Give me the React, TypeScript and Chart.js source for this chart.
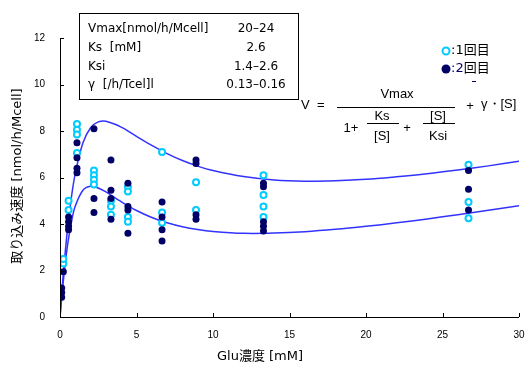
import { useEffect, useRef } from "react";
import { Chart, registerables } from "chart.js";

Chart.register(...registerables);

// Axis ticks
const xTickValues = [0, 5, 10, 15, 20, 25, 30];
const yTickValues = [0, 2, 4, 6, 8, 10, 12];

// 1回目 (open cyan circles)
const run1X = [
  0.22, 0.22,
  0.56, 0.56,
  1.11, 1.11, 1.11, 1.11,
  2.22, 2.22, 2.22, 2.22,
  3.33, 3.33, 3.33,
  4.44, 4.44, 4.44, 4.44,
  6.67, 6.67, 6.67,
  8.89, 8.89,
  13.3, 13.3, 13.3, 13.3,
  26.7, 26.7, 26.7,
];
const run1Y = [
  2.3, 2.5,
  4.6, 5.0,
  8.3, 8.05, 7.85, 7.05,
  6.3, 6.1, 5.9, 5.7,
  5.0, 4.75, 4.4,
  5.6, 5.4, 4.3, 4.1,
  7.1, 4.5, 4.05,
  5.8, 4.6,
  6.1, 5.25, 4.75, 4.3,
  6.55, 4.95, 4.25,
];

// 2回目 (filled navy circles)
const run2X = [
  0.11, 0.11, 0.11,
  0.22,
  0.56, 0.56, 0.56, 0.56,
  1.11, 1.11, 1.11, 1.11,
  2.22, 2.22, 2.22,
  3.33, 3.33, 3.33, 3.33,
  4.44, 4.44, 4.44, 4.44,
  6.67, 6.67, 6.67, 6.67,
  8.89, 8.89, 8.89, 8.89,
  13.3, 13.3, 13.3, 13.3, 13.3,
  26.7, 26.7, 26.7,
];
const run2Y = [
  0.85, 1.05, 1.25,
  1.95,
  4.3, 4.1, 3.9, 3.75,
  7.5, 6.85, 6.4, 6.2,
  8.1, 5.1, 4.5,
  6.75, 5.45, 5.1, 4.2,
  5.75, 4.75, 4.6, 3.6,
  4.95, 4.3, 3.75, 3.27,
  6.75, 6.6, 4.4, 4.2,
  5.75, 5.6, 4.1, 3.9, 3.7,
  6.3, 5.5, 4.6,
];

// Model curves
const curveX = [
  0, 0.1, 0.25, 0.5, 0.75, 1, 1.5, 2, 2.5, 3, 4, 5, 6, 7, 8, 9, 10, 12, 14,
  16, 18, 20, 22, 24, 26, 28, 30,
];
const upperCurveY = [
  0, 0.9, 2.13, 3.83, 5.17, 6.18, 7.49, 8.14, 8.39, 8.42, 8.17, 7.77, 7.38,
  7.03, 6.73, 6.49, 6.3, 6.04, 5.89, 5.84, 5.86, 5.92, 6.03, 6.16, 6.32, 6.5,
  6.7,
];
const lowerCurveY = [
  0, 0.75, 1.76, 3.12, 4.09, 4.77, 5.45, 5.62, 5.55, 5.38, 4.96, 4.58, 4.28,
  4.05, 3.88, 3.76, 3.68, 3.6, 3.61, 3.67, 3.77, 3.9, 4.05, 4.22, 4.4, 4.59,
  4.79,
];

// Parameter table
const tableLabels = ["Vmax[nmol/h/Mcell]", "Ks  [mM]", "Ksi", "γ  [/h/Tcel]l"];
const tableValues = ["20–24", "2.6", "1.4–2.6", "0.13–0.16"];

const CYAN = "#00ccff";
const NAVY = "#000066";
const BLUE = "#3333ff";
const LATIN = '"Liberation Sans", Arial, sans-serif';
const WIDE = '"DejaVu Sans", "Noto Sans CJK JP", sans-serif';

const zip = (xs: number[], ys: number[]) => xs.map((x, i) => ({ x, y: ys[i] }));

const overlayPlugin = {
  id: "overlay",
  afterDraw(chart: any) {
    const ctx: CanvasRenderingContext2D = chart.ctx;
    const xs = chart.scales.x;
    const ys = chart.scales.y;
    const area = chart.chartArea;
    ctx.save();
    // axes
    ctx.strokeStyle = "#000";
    ctx.lineWidth = 1;
    ctx.beginPath();
    ctx.moveTo(area.left + 0.5, area.top);
    ctx.lineTo(area.left + 0.5, area.bottom + 0.5);
    ctx.lineTo(area.right, area.bottom + 0.5);
    ctx.stroke();
    // inward ticks
    ctx.beginPath();
    yTickValues.forEach((v) => {
      const py = Math.round(ys.getPixelForValue(v)) + 0.5;
      ctx.moveTo(area.left, py);
      ctx.lineTo(area.left + 4, py);
    });
    xTickValues.forEach((v) => {
      const px = Math.round(xs.getPixelForValue(v)) + 0.5;
      ctx.moveTo(px, area.bottom);
      ctx.lineTo(px, area.bottom - 4);
    });
    ctx.stroke();

    ctx.fillStyle = "#000";
    // axis titles
    ctx.font = `13px ${WIDE}`;
    ctx.textAlign = "center";
    ctx.textBaseline = "middle";
    ctx.fillText("Glu濃度 [mM]", 260, 357);
    ctx.save();
    ctx.translate(18, 176);
    ctx.rotate(-Math.PI / 2);
    ctx.fillText("取り込み速度 [nmol/h/Mcell]", 0, 0);
    ctx.restore();

    // parameter table
    ctx.fillStyle = "#fff";
    ctx.fillRect(79.5, 13.5, 219, 86);
    ctx.strokeStyle = "#000";
    ctx.strokeRect(79.5, 13.5, 219, 86);
    ctx.fillStyle = "#000";
    ctx.font = `12px ${WIDE}`;
    const rowY = [29, 48, 67, 85];
    tableLabels.forEach((t, i) => {
      ctx.textAlign = "left";
      ctx.fillText(t, 88, rowY[i]);
      ctx.textAlign = "center";
      ctx.fillText(tableValues[i], 256, rowY[i]);
    });

    // legend
    ctx.lineWidth = 2;
    ctx.strokeStyle = CYAN;
    ctx.fillStyle = "#fff";
    ctx.beginPath();
    ctx.arc(446, 51, 3.5, 0, Math.PI * 2);
    ctx.fill();
    ctx.stroke();
    ctx.fillStyle = NAVY;
    ctx.beginPath();
    ctx.arc(446, 69, 4.5, 0, Math.PI * 2);
    ctx.fill();
    ctx.font = `13px ${WIDE}`;
    ctx.textAlign = "left";
    ctx.fillStyle = "#000";
    ctx.fillText(":1回目", 451, 51);
    ctx.fillStyle = NAVY;
    ctx.fillText(":2", 451, 69);
    const w2 = ctx.measureText(":2").width;
    ctx.fillStyle = "#000";
    ctx.fillText("回目", 451 + w2, 69);
    ctx.fillStyle = NAVY;
    ctx.fillRect(472, 81, 4, 1);

    // formula
    ctx.fillStyle = "#000";
    ctx.strokeStyle = "#000";
    ctx.lineWidth = 1;
    ctx.font = `13px ${LATIN}`;
    ctx.textAlign = "left";
    ctx.fillText("V  =", 301, 105);
    ctx.beginPath();
    ctx.moveTo(337, 107.5);
    ctx.lineTo(455, 107.5);
    ctx.moveTo(367, 123.5);
    ctx.lineTo(399, 123.5);
    ctx.moveTo(423, 123.5);
    ctx.lineTo(455, 123.5);
    ctx.stroke();
    ctx.textAlign = "center";
    ctx.fillText("Vmax", 397, 94);
    ctx.fillText("1+", 351, 128);
    ctx.fillText("Ks", 382, 116);
    ctx.fillText("[S]", 382, 136);
    ctx.fillText("+", 407, 128);
    ctx.fillText("[S]", 438, 116);
    ctx.fillText("Ksi", 438, 136);
    ctx.fillText("+", 470, 106);
    ctx.textAlign = "left";
    ctx.fillText("γ・[S]", 481, 104);
    ctx.restore();
  },
};

export default function App() {
  const ref = useRef<HTMLCanvasElement>(null);
  useEffect(() => {
    document.body.style.margin = "0";
    const chart = new Chart(ref.current as HTMLCanvasElement, {
      type: "scatter",
      data: {
        datasets: [
          {
            label: "2回目",
            data: zip(run2X, run2Y),
            pointRadius: 3.5,
            pointBackgroundColor: NAVY,
            pointBorderWidth: 0,
            pointBorderColor: NAVY,
            showLine: false,
          },
          {
            label: "1回目",
            data: zip(run1X, run1Y),
            pointRadius: 3,
            pointBackgroundColor: "#fff",
            pointBorderColor: CYAN,
            pointBorderWidth: 2,
            showLine: false,
          },
          {
            label: "upper",
            data: zip(curveX, upperCurveY),
            showLine: true,
            pointRadius: 0,
            borderColor: BLUE,
            borderWidth: 1.5,
            tension: 0.35,
            fill: false,
          },
          {
            label: "lower",
            data: zip(curveX, lowerCurveY),
            showLine: true,
            pointRadius: 0,
            borderColor: BLUE,
            borderWidth: 1.5,
            tension: 0.35,
            fill: false,
          },
        ],
      },
      options: {
        animation: false,
        responsive: false,
        devicePixelRatio: 1,
        layout: { padding: { top: 38, right: 10, left: 0, bottom: 0 } },
        plugins: { legend: { display: false }, tooltip: { enabled: false } },
        scales: {
          x: {
            type: "linear",
            min: 0,
            max: 30,
            afterFit: (s: any) => {
              s.height = 48;
              s.paddingLeft = 0;
              s.paddingRight = 0;
            },
            afterBuildTicks: (s: any) => {
              s.ticks = xTickValues.map((v) => ({ value: v }));
            },
            grid: { display: false, drawTicks: false },
            border: { display: false },
            ticks: {
              padding: 12,
              font: { family: LATIN, size: 10 },
              color: "#000",
              maxRotation: 0,
            },
          },
          y: {
            type: "linear",
            min: 0,
            max: 12,
            afterFit: (s: any) => {
              s.width = 60;
              s.paddingTop = 0;
              s.paddingBottom = 0;
            },
            afterBuildTicks: (s: any) => {
              s.ticks = yTickValues.map((v) => ({ value: v }));
            },
            grid: { display: false, drawTicks: false },
            border: { display: false },
            ticks: {
              padding: 15,
              font: { family: LATIN, size: 10 },
              color: "#000",
            },
          },
        },
      },
      plugins: [overlayPlugin],
    });
    return () => chart.destroy();
  }, []);
  return (
    <div style={{ position: "fixed", left: 0, top: 0, width: 529, height: 365, background: "#fff" }}>
      <canvas ref={ref} width={529} height={365} style={{ width: 529, height: 365 }} />
    </div>
  );
}
